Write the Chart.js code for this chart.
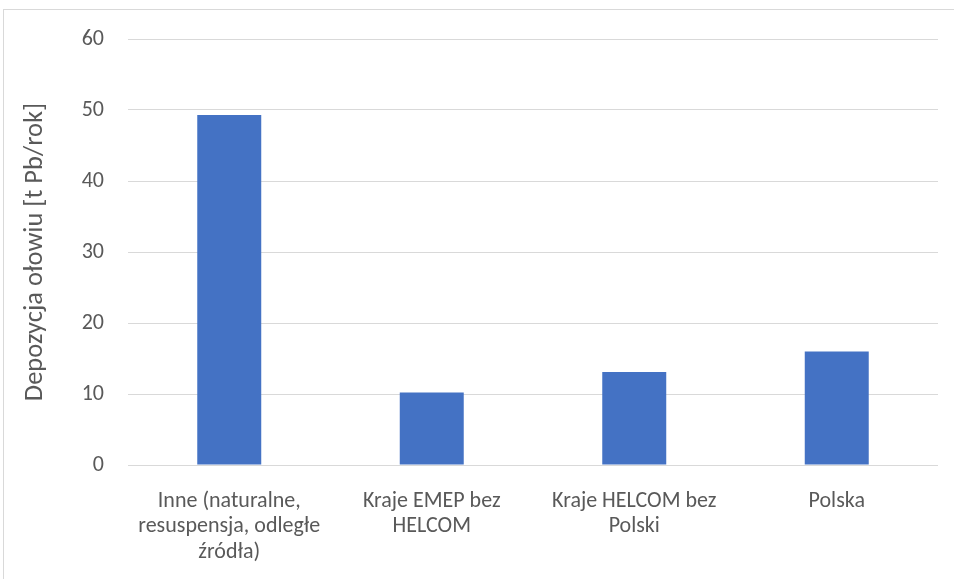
<!DOCTYPE html>
<html>
<head>
<meta charset="utf-8">
<script src="https://cdn.jsdelivr.net/npm/chart.js@4/dist/chart.umd.min.js"></script>
<style>
  html, body { margin: 0; padding: 0; background: #fff; }
  #wrap { width: 954px; height: 579px; position: relative; }
</style>
</head>
<body>
<div id="wrap"><canvas id="chart"></canvas></div>
<script>
// Dane
const categories = [
    ['Inne (naturalne,', 'resuspensja, odległe', 'źródła)'],
    ['Kraje EMEP bez', 'HELCOM'],
    ['Kraje HELCOM bez', 'Polski'],
    ['Polska']
];
const deposition = [49.3, 10.2, 13.1, 16.0];
const yMin = 0, yMax = 60, yStep = 10;
const yTitle = 'Depozycja ołowiu [t Pb/rok]';

const textColor = '#595959';
const fontFamily = 'Carlito, Calibri, Lato, sans-serif';

// ramka wykresu
const framePlugin = {
    id: 'frame',
    beforeDraw(chart) {
        const ctx = chart.ctx;
        ctx.save();
        ctx.fillStyle = '#fff';
        ctx.fillRect(0, 0, chart.width, chart.height);
        ctx.strokeStyle = '#d9d9d9';
        ctx.lineWidth = 1;
        ctx.strokeRect(3.5, 9.5, 1200, 1200);
        ctx.restore();
    }
};

const ctx = document.getElementById('chart').getContext('2d');
new Chart(ctx, {
    type: 'bar',
    data: {
        labels: categories,
        datasets: [{
            data: deposition,
            backgroundColor: '#4472C4',
            borderWidth: 0,
            categoryPercentage: 1,
            barPercentage: 0.316
        }]
    },
    options: {
        responsive: true,
        maintainAspectRatio: false,
        animation: false,
        layout: { padding: { top: 39, right: 16, bottom: 0, left: 0 } },
        plugins: {
            legend: { display: false },
            tooltip: { enabled: false }
        },
        scales: {
            x: {
                grid: { display: false },
                border: { display: false },
                ticks: {
                    color: textColor,
                    font: { family: fontFamily, size: 22, lineHeight: 1.15 },
                    padding: 16,
                    maxRotation: 0,
                    autoSkip: false
                },
                afterFit(scale) { scale.height = 114; }
            },
            y: {
                min: yMin,
                max: yMax,
                grid: { color: '#d9d9d9', drawTicks: false },
                border: { display: false },
                ticks: {
                    stepSize: yStep,
                    color: textColor,
                    font: { family: fontFamily, size: 22 },
                    padding: 24
                },
                title: {
                    display: true,
                    text: yTitle,
                    color: textColor,
                    font: { family: fontFamily, size: 26.5 },
                    padding: { top: 19, bottom: 0 }
                },
                afterFit(scale) { scale.width = 128; }
            }
        }
    },
    plugins: [framePlugin]
});
</script>
</body>
</html>
